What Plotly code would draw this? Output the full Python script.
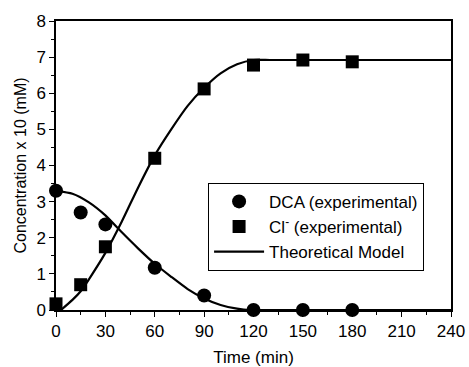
import plotly.graph_objects as go

# Experimental measurements
time_exp = [0, 15, 30, 60, 90, 120, 150, 180]
dca_exp = [3.30, 2.70, 2.37, 1.17, 0.40, 0.0, 0.0, 0.0]
cl_exp = [0.17, 0.70, 1.75, 4.20, 6.12, 6.78, 6.92, 6.87]

# Theoretical model curves
time_dca_model = [0, 10, 20, 30, 40, 50, 60, 70, 80, 90, 100, 110, 118, 130, 150, 200, 240]
dca_model = [3.30, 3.22, 2.98, 2.62, 2.15, 1.70, 1.28, 0.92, 0.58, 0.32, 0.14, 0.04, 0.0, 0.0, 0.0, 0.0, 0.0]
time_cl_model = [3, 10, 15, 20, 30, 40, 50, 60, 70, 80, 90, 100, 110, 120, 130, 150, 200, 240]
cl_model = [0.0, 0.28, 0.52, 0.85, 1.58, 2.45, 3.40, 4.28, 5.00, 5.65, 6.15, 6.55, 6.80, 6.92, 6.92, 6.92, 6.92, 6.92]

x_ticks = [0, 30, 60, 90, 120, 150, 180, 210, 240]
y_ticks = [0, 1, 2, 3, 4, 5, 6, 7, 8]

font = "Liberation Sans, Arial, sans-serif"

fig = go.Figure()
fig.add_trace(go.Scatter(
    x=time_exp, y=dca_exp, mode="markers", name="DCA (experimental)",
    marker=dict(symbol="circle", size=14, color="black"), cliponaxis=False))
fig.add_trace(go.Scatter(
    x=time_exp, y=cl_exp, mode="markers", name="Cl<sup>-</sup> (experimental)",
    marker=dict(symbol="square", size=13, color="black"), cliponaxis=False))
fig.add_trace(go.Scatter(
    x=time_dca_model, y=dca_model, mode="lines", name="Theoretical Model",
    line=dict(color="black", width=2.2, shape="spline", smoothing=0.6)))
fig.add_trace(go.Scatter(
    x=time_cl_model, y=cl_model, mode="lines", showlegend=False,
    line=dict(color="black", width=2.2, shape="spline", smoothing=0.6)))

axis_common = dict(
    showline=True, linecolor="black", linewidth=1.5, mirror=True,
    showgrid=False, zeroline=False, ticks="outside", ticklen=5,
    tickwidth=1.2, tickcolor="black", automargin=False,
    tickfont=dict(family=font, size=17, color="black"),
)

fig.update_xaxes(
    range=[0, 240], tickvals=x_ticks,
    minor=dict(ticks="outside", ticklen=3, tickwidth=1.2, tickcolor="black", dtick=15, tick0=0),
    title=dict(text="Time (min)", font=dict(family=font, size=17, color="black"), standoff=12),
    **axis_common)
fig.update_yaxes(
    range=[0, 8], tickvals=y_ticks,
    minor=dict(ticks="outside", ticklen=3, tickwidth=1.2, tickcolor="black", dtick=0.5, tick0=0),
    title=dict(text="Concentration x 10 (mM)", font=dict(family=font, size=16, color="black"), standoff=6),
    **axis_common)

fig.update_layout(
    width=469, height=367,
    margin=dict(l=56, r=18, t=21, b=57),
    paper_bgcolor="white", plot_bgcolor="white",
    font=dict(family=font, color="black"),
    legend=dict(
        x=0.385, y=0.44, xanchor="left", yanchor="top",
        bgcolor="white", bordercolor="black", borderwidth=1,
        font=dict(family=font, size=17, color="black"),
        itemwidth=50, tracegroupgap=2, entrywidth=180,
    ),
)

fig.write_html("out.html")
